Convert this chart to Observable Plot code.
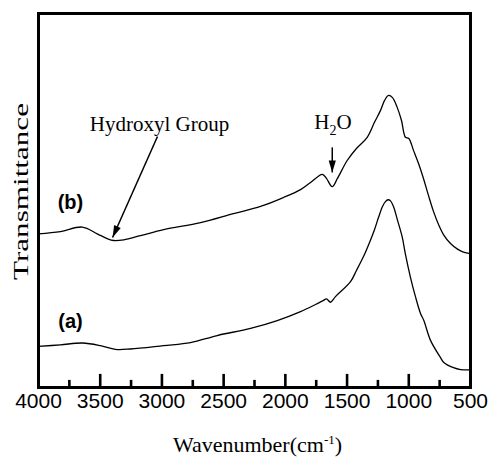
<!DOCTYPE html>
<html>
<head>
<meta charset="utf-8">
<script src="https://cdn.jsdelivr.net/npm/d3@7"></script>
<script src="https://cdn.jsdelivr.net/npm/@observablehq/plot@0.6"></script>
<style>
  html, body { margin: 0; padding: 0; background: #fff; }
  #chart { width: 492px; height: 459px; }
</style>
</head>
<body>
<div id="chart"></div>
<script>
// ---- data (wavenumber in cm^-1, transmittance in arbitrary units) ----
const bWavenumber = [4000, 3822, 3646, 3524, 3443, 3390, 3309, 3174, 2985, 2687, 2420, 2201, 2015, 1877, 1796, 1701, 1667, 1620, 1578, 1499, 1424, 1337, 1278, 1229, 1197, 1164, 1132, 1094, 1059, 1027, 1000, 962, 921, 881, 840, 800, 759, 719, 662, 605, 557, 500];
const bValue      = [41.1, 41.7, 42.9, 41.1, 39.8, 39.3, 39.5, 40.6, 42.2, 44.1, 46.5, 48.4, 50.8, 52.9, 54.8, 57.0, 55.9, 53.7, 55.9, 60.7, 63.9, 66.9, 70.9, 74.1, 76.7, 78.1, 77.5, 74.9, 71.4, 66.9, 66.6, 63.4, 59.9, 55.9, 51.3, 47.1, 43.6, 40.9, 38.5, 37.0, 36.2, 35.8];

const aWavenumber = [4000, 3822, 3644, 3498, 3376, 3255, 2987, 2768, 2552, 2282, 2066, 1877, 1756, 1691, 1667, 1634, 1594, 1472, 1424, 1367, 1318, 1278, 1245, 1213, 1189, 1168, 1148, 1124, 1091, 1053, 1027, 986, 946, 905, 878, 824, 743, 716, 638, 581, 500];
const aValue      = [11.0, 11.4, 11.9, 11.2, 10.2, 10.3, 11.2, 12.0, 13.9, 15.8, 17.9, 20.3, 22.2, 23.3, 23.7, 22.8, 24.3, 28.3, 31.3, 35.0, 38.8, 42.2, 45.5, 48.4, 49.7, 50.2, 49.9, 48.4, 44.7, 40.2, 35.6, 29.4, 24.3, 19.8, 17.9, 12.6, 8.0, 6.7, 5.3, 4.8, 4.7];

const majorTicks = [4000, 3500, 3000, 2500, 2000, 1500, 1000, 500];
const minorTicks = [3750, 3250, 2750, 2250, 1750, 1250, 750];

const curveLabels = ["(b)", "(a)"];
const curveLabelX = [3741, 3741];
const curveLabelY = [49.5, 17.6];

const noteText = ["Hydroxyl Group", "H2O"];
const noteX    = [3020, 1614];
const noteY    = [70.4, 71.0];

const arrowX1 = [3036, 1620];
const arrowY1 = [67.1, 64.2];
const arrowX2 = [3400, 1620];
const arrowY2 = [40.1, 57.5];

// ---- layout ----
const W = 492, H = 459, ML = 38, MR = 22, MT = 13, MB = 72;
const kx = (W - ML - MR) / 3500;
const ky = (H - MT - MB) / 100;

const seriesB = bWavenumber.map((w, i) => ({wn: w, t: bValue[i]}));
const seriesA = aWavenumber.map((w, i) => ({wn: w, t: aValue[i]}));
const curveLabelData = curveLabels.map((s, i) => ({s, x: curveLabelX[i], y: curveLabelY[i]}));
const notes = noteText.map((s, i) => ({s, x: noteX[i], y: noteY[i]}));
const arrows = arrowX1.map((x1, i) => {
  const dxp = -(arrowX2[i] - x1) * kx;
  const dyp = -(arrowY2[i] - arrowY1[i]) * ky;
  return {x1, y1: arrowY1[i], x2: arrowX2[i], y2: arrowY2[i], angle: Math.atan2(dxp, -dyp) * 180 / Math.PI};
});

const arrowHead = {
  draw(context) {
    context.moveTo(0, 0);
    context.lineTo(-3.6, 12);
    context.lineTo(3.6, 12);
    context.closePath();
  }
};

const serif = "Liberation Serif, Times New Roman, serif";
const sans = "Liberation Sans, Arial, sans-serif";

const plot = Plot.plot({
  width: W,
  height: H,
  marginLeft: ML,
  marginRight: MR,
  marginTop: MT,
  marginBottom: MB,
  style: {background: "#fff", color: "#000", fontFamily: sans, fontSize: "20px"},
  x: {domain: [4000, 500], label: null},
  y: {domain: [0, 100], label: null, axis: null},
  marks: [
    Plot.axisX({ticks: majorTicks, tickSize: 0, tickPadding: 6, tickFormat: d => String(d), fontSize: 21, fontFamily: sans, label: null}),
    Plot.ruleX(majorTicks, {x: d => d, y1: 0, y2: 3.5, strokeWidth: 2.6, stroke: "#000"}),
    Plot.ruleX(minorTicks, {x: d => d, y1: 0, y2: 1.9, strokeWidth: 2.6, stroke: "#000"}),
    Plot.line(seriesB, {x: "wn", y: "t", stroke: "#000", strokeWidth: 1.3, curve: "catmull-rom"}),
    Plot.line(seriesA, {x: "wn", y: "t", stroke: "#000", strokeWidth: 1.3, curve: "catmull-rom"}),
    Plot.text(curveLabelData, {x: "x", y: "y", text: "s", fontFamily: sans, fontWeight: "bold", fontSize: 20, textAnchor: "middle", fill: "#000"}),
    Plot.text(notes, {x: "x", y: "y", text: "s", fontFamily: serif, fontSize: 21, textAnchor: "middle", fill: "#000"}),
    Plot.link(arrows, {x1: "x1", y1: "y1", x2: "x2", y2: "y2", stroke: "#000", strokeWidth: 1.5}),
    Plot.dot(arrows, {x: "x2", y: "y2", symbol: arrowHead, rotate: "angle", fill: "#000", stroke: "none"}),
    Plot.text(["Transmittance"], {frameAnchor: "left", textAnchor: "middle", rotate: -90, dx: -18, dy: -9, fontFamily: serif, fontSize: 22, fill: "#000"}),
    Plot.text(["Wavenumber(cm-1)"], {frameAnchor: "bottom", textAnchor: "middle", dy: 64, dx: 3, fontFamily: serif, fontSize: 22, fill: "#000"}),
    Plot.frame({stroke: "#000", strokeWidth: 3})
  ]
});

document.getElementById("chart").appendChild(plot);

// rich text: subscripts / superscripts and stretched axis title
const svg = d3.select(plot);
svg.selectAll("text").filter(function () { return this.textContent === "Transmittance"; })
  .attr("textLength", 177).attr("lengthAdjust", "spacingAndGlyphs");

svg.selectAll("text").filter(function () { return this.textContent === "H2O"; })
  .each(function () {
    const t = d3.select(this);
    t.text(null);
    t.append("tspan").text("H");
    t.append("tspan").attr("dy", 6).attr("font-size", 14).text("2");
    t.append("tspan").attr("dy", -6).text("O");
  });

svg.selectAll("text").filter(function () { return this.textContent === "Wavenumber(cm-1)"; })
  .each(function () {
    const t = d3.select(this);
    t.text(null);
    t.append("tspan").text("Wavenumber(cm");
    t.append("tspan").attr("dy", -8).attr("font-size", 13).text("-1");
    t.append("tspan").attr("dy", 8).text(")");
  });
</script>
</body>
</html>
